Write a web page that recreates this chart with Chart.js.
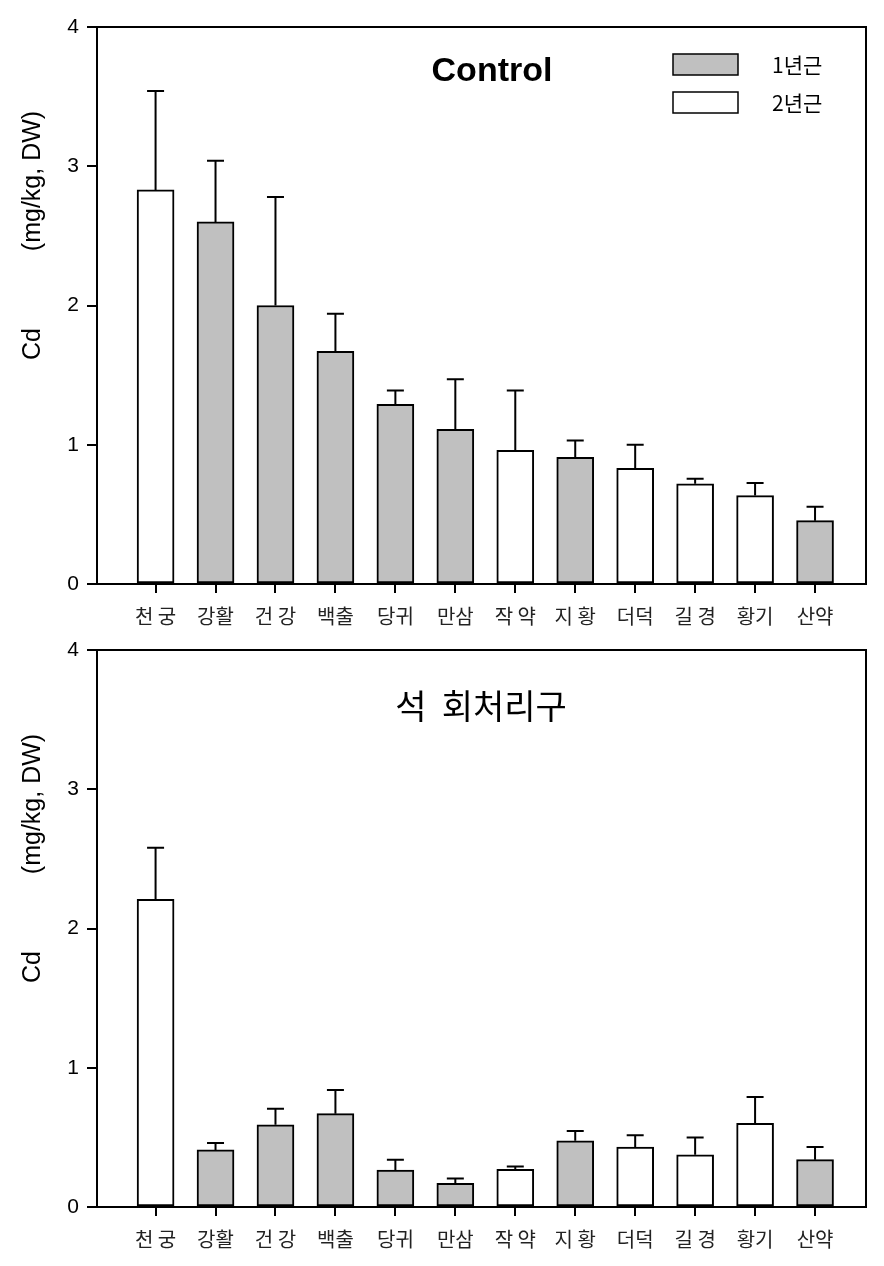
<!DOCTYPE html>
<html><head><meta charset="utf-8">
<script src="https://cdn.jsdelivr.net/npm/chart.js@4.4.1/dist/chart.umd.min.js"></script>
<style>
html,body{margin:0;padding:0;background:#fff;}
#wrap{position:relative;width:884px;height:1266px;overflow:hidden;}
.box{position:absolute;left:0;width:884px;}
</style></head><body>
<div id="wrap">
<div class="box" style="top:0;height:633px"><canvas id="c1"></canvas></div>
<div class="box" style="top:623px;height:643px"><canvas id="c2"></canvas></div>
</div>
<script>
const categories = ['천 궁','강활','건 강','백출','당귀','만삼','작 약','지 황','더덕','길 경','황기','산약'];
const rootAge = [2,1,1,1,1,1,2,1,2,2,2,1];
const seriesNames = ['1년근','2년근'];
const controlMeans = [2.83,2.60,2.00,1.67,1.29,1.11,0.96,0.91,0.83,0.72,0.635,0.455];
const controlSD    = [0.71,0.44,0.78,0.27,0.10,0.36,0.43,0.12,0.17,0.035,0.09,0.10];
const limeMeans = [2.21,0.41,0.59,0.67,0.265,0.17,0.27,0.475,0.43,0.375,0.60,0.34];
const limeSD    = [0.37,0.05,0.115,0.17,0.075,0.035,0.02,0.07,0.085,0.125,0.19,0.09];
const yTicks = [0,1,2,3,4];
const panelTitles = ['Control','석  회처리구'];

const GRAY = '#c0c0c0';
const KFONT = '"Noto Sans CJK KR", "Noto Sans", sans-serif';
const AFONT = '"Liberation Sans", Arial, sans-serif';

function makeDatasets(means){
  return [1,2].map(age => ({
    label: seriesNames[age-1],
    data: categories.map((c,i)=>({x:i,y:means[i],age:rootAge[i]})).filter(p=>p.age===age),
    backgroundColor: age===1 ? GRAY : '#ffffff',
    borderColor: '#000',
    borderWidth: 2,
    borderSkipped: false,
    barThickness: 37,
    grouped: false
  }));
}

function decoPlugin(means, sd, titleIdx, showLegend){
  return {
    id: 'deco'+titleIdx,
    afterDatasetsDraw(chart){
      const ctx = chart.ctx, xs = chart.scales.x, ys = chart.scales.y, a = chart.chartArea;
      ctx.save();
      ctx.strokeStyle = '#000'; ctx.lineWidth = 2; ctx.lineCap = 'butt';
      means.forEach((m,i)=>{
        const x = xs.getPixelForValue(i);
        const y0 = ys.getPixelForValue(m);
        const y1 = ys.getPixelForValue(m + sd[i]);
        ctx.beginPath();
        ctx.moveTo(x, y0); ctx.lineTo(x, y1);
        ctx.moveTo(x-8.5, y1); ctx.lineTo(x+8.5, y1);
        ctx.stroke();
      });
      // frame
      ctx.strokeRect(a.left, a.top, a.right-a.left, a.bottom-a.top);
      // panel title
      ctx.fillStyle = '#000';
      ctx.textAlign = 'center'; ctx.textBaseline = 'middle';
      if (titleIdx===0){
        ctx.font = 'bold 34px ' + AFONT;
        ctx.fillText(panelTitles[0], 492, 72);
      } else {
        ctx.font = '34px ' + KFONT;
        ctx.fillText(panelTitles[1], 481, 83);
      }
      // y title
      ctx.font = '25px ' + AFONT;
      ctx.save(); ctx.translate(33, 181); ctx.rotate(-Math.PI/2);
      ctx.fillText('(mg/kg, DW)', 0, 0); ctx.restore();
      ctx.save(); ctx.translate(33, 344); ctx.rotate(-Math.PI/2);
      ctx.fillText('Cd', 0, 0); ctx.restore();
      // legend
      if (showLegend){
        const ds = chart.data.datasets;
        ctx.lineWidth = 1.5;
        [[54,65],[92,103]].forEach((p,k)=>{
          ctx.fillStyle = ds[k].backgroundColor;
          ctx.fillRect(673, p[0], 65, 21);
          ctx.strokeRect(673, p[0], 65, 21);
          ctx.fillStyle = '#000';
          ctx.font = '21px ' + KFONT;
          ctx.textAlign = 'left';
          ctx.fillText(ds[k].label, 772, p[1]);
        });
      }
      ctx.restore();
    }
  };
}

function makeChart(id, means, sd, titleIdx, canvasH){
  return new Chart(document.getElementById(id), {
    type: 'bar',
    data: { datasets: makeDatasets(means) },
    options: {
      responsive: true, maintainAspectRatio: false, animation: false,
      layout: { padding: { top: 27, right: 18, left: 0, bottom: 0 } },
      plugins: { legend: { display: false }, tooltip: { enabled: false } },
      scales: {
        x: {
          type: 'linear', min: -0.977, max: 11.85, offset: false,
          afterBuildTicks: s => { s.ticks = categories.map((c,i)=>({value:i})); },
          afterFit: s => { s.height = canvasH - 584; },
          ticks: { callback: v => categories[v], autoSkip: false, maxRotation: 0,
                   font: { family: KFONT, size: 20 }, color: '#222', padding: 11 },
          grid: { offset: false, drawOnChartArea: false, drawTicks: true, tickLength: 9, lineWidth: 2, color: '#000' },
          border: { display: true, color: '#000', width: 2 }
        },
        y: {
          min: 0, max: 4,
          afterBuildTicks: s => { s.ticks = yTicks.map(v=>({value:v})); },
          afterFit: s => { s.width = 97; },
          ticks: { font: { family: AFONT, size: 21 }, color: '#000', padding: 8 },
          grid: { drawOnChartArea: false, drawTicks: true, tickLength: 10, lineWidth: 2, color: '#000' },
          border: { display: true, color: '#000', width: 2 }
        }
      }
    },
    plugins: [decoPlugin(means, sd, titleIdx, titleIdx===0)]
  });
}

makeChart('c1', controlMeans, controlSD, 0, 633);
makeChart('c2', limeMeans, limeSD, 1, 643);
</script>
</body></html>
